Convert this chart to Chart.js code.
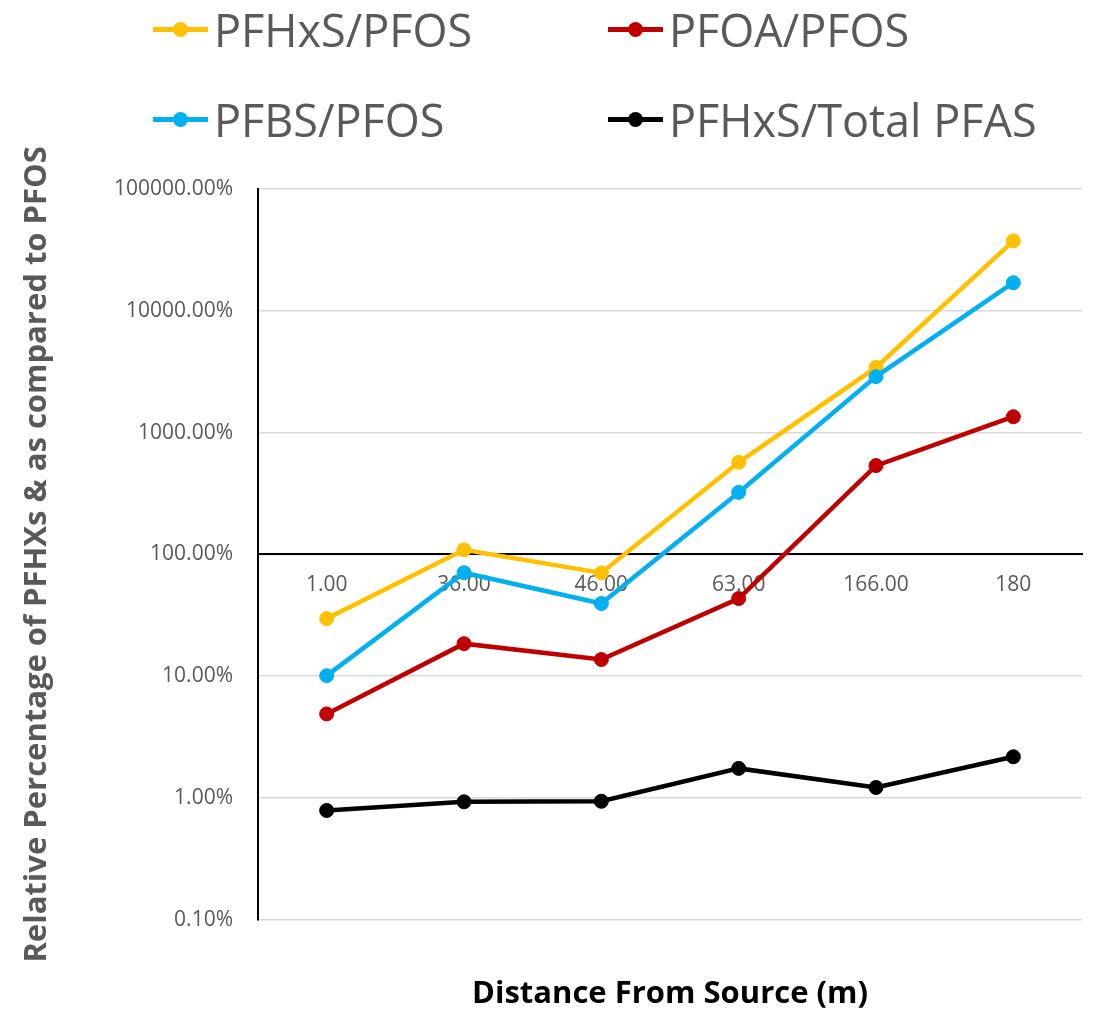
<!DOCTYPE html>
<html>
<head>
<meta charset="utf-8">
<script src="https://cdn.jsdelivr.net/npm/chart.js@4.4.0/dist/chart.umd.min.js"></script>
<style>
  body { margin: 0; background: #fff; }
  #wrap { position: relative; width: 1102px; height: 1013px; }
  #legend {
    position: absolute; left: 153px; top: -16px;
    display: grid; grid-template-columns: 455px auto; grid-auto-rows: 90px;
    font-family: 'Open Sans'; font-size: 45px; line-height: 1; color: #595959;
  }
  .item { display: flex; align-items: center; white-space: nowrap; }
  .mark { position: relative; width: 55px; height: 5px; margin-right: 6px; }
  .mark i { position: absolute; left: 50%; top: 50%; width: 15px; height: 15px; margin: -7.5px 0 0 -7.5px; border-radius: 50%; }
</style>
</head>
<body>
<div id="wrap">
  <canvas id="chartCanvas" width="1102" height="1013"></canvas>
  <div id="legend"></div>
</div>
<script>
const distances = ['1.00', '36.00', '46.00', '63.00', '166.00', '180'];
const pfhxsPfos = [29.7, 109, 70.5, 570, 3430, 37500];
const pfoaPfos = [4.9, 18.5, 13.7, 43.4, 536, 1350];
const pfbsPfos = [10.1, 70.7, 39.5, 323, 2880, 17000];
const pfhxsTotal = [0.79, 0.93, 0.94, 1.75, 1.22, 2.18];
const yTicks = [0.1, 1, 10, 100, 1000, 10000, 100000];

function series(label, data, color, order) {
    return {
        label: label,
        data: data,
        borderColor: color,
        backgroundColor: color,
        borderWidth: 4.5,
        pointRadius: 7,
        pointHoverRadius: 7,
        pointBorderWidth: 1,
        pointBorderColor: color,
        pointBackgroundColor: color,
        tension: 0,
        order: order
    };
}

const datasets = [
    series('PFHxS/PFOS', pfhxsPfos, '#FFC000', 4),
    series('PFOA/PFOS', pfoaPfos, '#C00000', 3),
    series('PFBS/PFOS', pfbsPfos, '#00B0F0', 2),
    series('PFHxS/Total PFAS', pfhxsTotal, '#000000', 1)
];

const tickFont = { family: 'Open Sans', size: 21 };

const ctx = document.getElementById('chartCanvas').getContext('2d');
new Chart(ctx, {
    type: 'line',
    data: { labels: distances, datasets: datasets },
    options: {
        responsive: false,
        animation: false,
        devicePixelRatio: 1,
        layout: { padding: { top: 189, right: 20, bottom: 0, left: 0 } },
        scales: {
            x: {
                type: 'category',
                position: { y: 100 },
                offset: true,
                grid: { display: true, color: 'rgba(0,0,0,0)', drawTicks: false },
                border: { display: true, color: '#000', width: 2 },
                ticks: { color: '#595959', font: tickFont, padding: 18, maxRotation: 0, autoSkip: false }
            },
            y: {
                type: 'logarithmic',
                min: 0.1,
                max: 100000,
                afterBuildTicks: (scale) => { scale.ticks = yTicks.map(v => ({ value: v })); },
                afterFit: (scale) => { scale.width = 258; },
                grid: { color: '#d9d9d9', lineWidth: 1.5, drawTicks: false },
                border: { color: '#000', width: 2 },
                ticks: {
                    color: '#595959', font: tickFont, padding: 25,
                    callback: (v) => Number(v).toFixed(2) + '%'
                },
                title: {
                    display: true,
                    text: 'Relative Percentage of PFHXs & as compared to PFOS',
                    color: '#595959',
                    font: { family: 'Open Sans', size: 31, weight: 'bold' },
                    padding: { top: 19, bottom: 0 }
                }
            }
        },
        plugins: {
            legend: { display: false },
            tooltip: { enabled: false },
            title: {
                display: true,
                position: 'bottom',
                fullSize: false,
                text: 'Distance From Source (m)',
                color: '#000',
                font: { family: 'Open Sans', size: 31, weight: 'bold' },
                padding: { top: 56, bottom: 0 }
            }
        }
    }
});

// legend in two aligned columns, like the original
const legend = document.getElementById('legend');
datasets.forEach(ds => {
    const item = document.createElement('div');
    item.className = 'item';
    item.innerHTML = '<span class="mark" style="background:' + ds.borderColor + '"><i style="background:' +
        ds.borderColor + '"></i></span><span>' + ds.label + '</span>';
    legend.appendChild(item);
});
</script>
</body>
</html>
